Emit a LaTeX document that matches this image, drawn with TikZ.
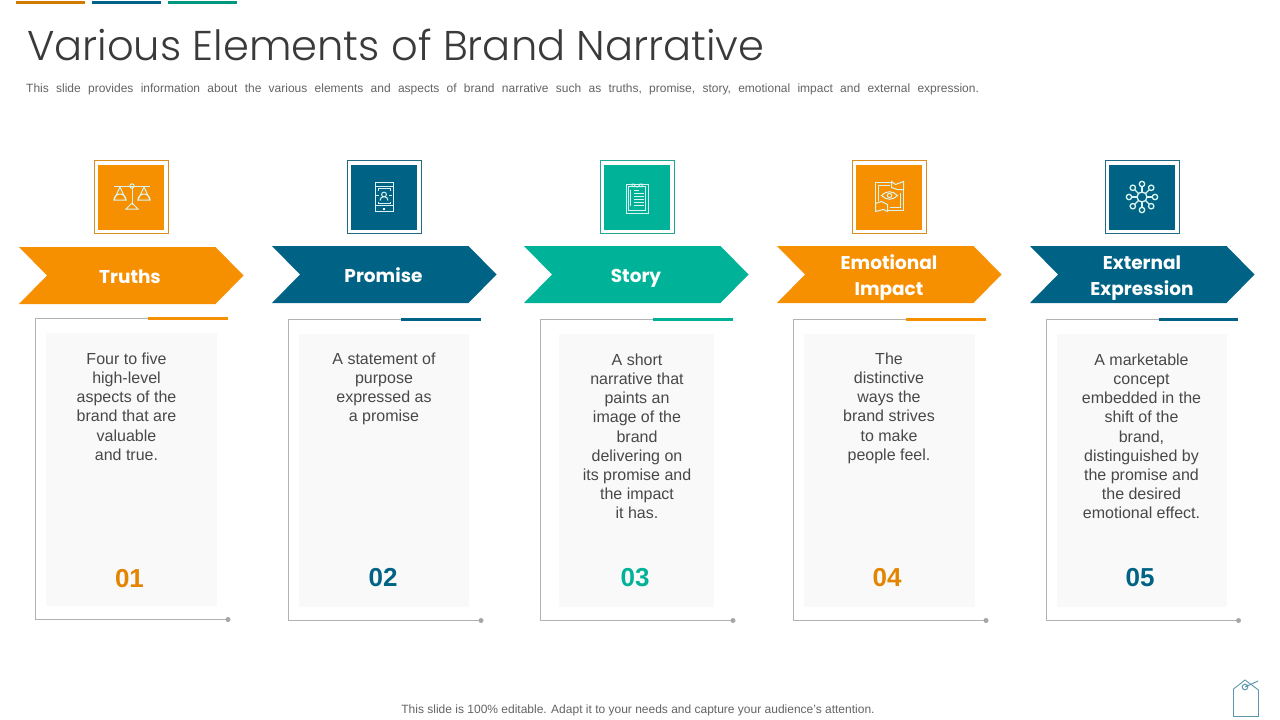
\documentclass[tikz,border=0pt]{standalone}
\usepackage{fontspec}
\setmainfont{Liberation Sans}
\newfontfamily\headfont{Poppins}
\newfontfamily\titlefont[UprightFont=* Light]{Poppins}
\definecolor{brandorange}{HTML}{F79000}
\definecolor{brandblue}{HTML}{006385}
\definecolor{brandgreen}{HTML}{00B398}
\definecolor{bodygrey}{HTML}{484848}
\definecolor{tagblue}{HTML}{5C97AC}
\newcommand{\bodysize}{\fontsize{16}{19.2}\selectfont}

\begin{document}
\begin{tikzpicture}[x=1pt,y=-1pt]
    \tikzstyle{title}=[anchor=west,inner sep=0pt,text=bodygrey!80!black,font=\titlefont\fontsize{41.6}{50}\selectfont]
    \tikzstyle{note}=[inner sep=0pt,text=bodygrey!85,font=\fontsize{12}{14}\selectfont]
    \tikzstyle{banner text}=[align=center,text=white,inner sep=0pt,font=\headfont\bfseries\fontsize{18.5}{26}\selectfont]
    \tikzstyle{body}=[anchor=north,align=center,inner sep=0pt,text=bodygrey,font=\bodysize]
    \tikzstyle{number}=[inner sep=0pt,font=\bfseries\fontsize{26}{30}\selectfont]
    \tikzstyle{icon line}=[draw=white!85!brandgreen,line width=1pt,fill=none]
    \useasboundingbox (0,0) rectangle (1280,720);

    % top rules
    \fill[brandorange!85!black] (16,1) rectangle (85,3.5);
    \fill[brandblue] (92,1) rectangle (161,3.5);
    \fill[brandgreen!85!black] (168,1) rectangle (237,3.5);

    \node[title] (title) at (27,44.5) {Various Elements of Brand Narrative};
    \node[note,anchor=west] (subtitle) at (26,89) {\spaceskip=7.3pt This slide provides information about the various elements and aspects of brand narrative such as truths, promise, story, emotional impact and external expression.};

    % icon frames
    \foreach \x/\y/\c in {94/160/brandorange,347/160/brandblue,600/160/brandgreen,852/160/brandorange,1105/160/brandblue}{
        \draw[\c!75!gray,line width=0.8pt] (\x+0.5,\y+0.5) rectangle (\x+74.5,\y+73.5);
        \fill[\c] (\x+4,\y+4.5) rectangle (\x+70,\y+70);
    }

    % arrows
    \foreach \x/\y/\c in {19/247/brandorange,272/246/brandblue,524/246/brandgreen,777/246/brandorange,1030/246/brandblue}{
        \fill[\c] (\x,\y) -- (\x+196.5,\y) -- (\x+224.5,\y+28.5) -- (\x+196.5,\y+57) -- (\x,\y+57) -- (\x+28,\y+28.5) -- cycle;
    }

    % panels
    \foreach \x/\y/\c/\bx/\bw in {35.5/318.5/brandorange/46/171,288.5/319.5/brandblue/299/170,540.5/319.5/brandgreen/559/155,793.5/319.5/brandorange/804/171,1046/319.5/brandblue/1057/170}{
        \fill[gray!5] (\bx,\y+14.5) rectangle (\bx+\bw,\y+287.5);
        \draw[gray!60,line width=0.9pt] (\x+113,\y) -- (\x,\y) -- (\x,\y+301) -- (\x+192,\y+301);
        \fill[gray!70] (\x+192.5,\y+301) circle (2.5);
        \draw[\c,line width=2.5pt] (\x+112.5,\y) -- (\x+192,\y);
    }

    % scales
    \begin{scope}[shift={(132,197)}]
        \draw[icon line] (-18,-11) -- (18,-11) (0,-9) -- (0,8);
        \draw[icon line] (0,-11) circle (2.2);
        \draw[icon line] (-6,12) -- (0,6) -- (6,12) -- cycle;
        \draw[icon line] (-12,-10) -- (-18,3) -- (-6,3) -- cycle;
        \draw[icon line] (12,-10) -- (6,3) -- (18,3) -- cycle;
        \draw[icon line] (-18,3) arc (180:360:6);
        \draw[icon line] (6,3) arc (180:360:6);
    \end{scope}
    % phone
    \begin{scope}[shift={(384,196.5)}]
        \draw[icon line] (-9,-14.5) rectangle (9,14.5);
        \draw[icon line] (-9,-10) -- (9,-10) (-9,9) -- (9,9);
        \draw[icon line] (-6,-6) -- (-6,-8) -- (6,-8) -- (6,-6) (-6,5) -- (-6,7) -- (6,7) -- (6,5);
        \draw[icon line] (0,-2) circle (2.4);
        \draw[icon line] (-4,4) arc (180:360:4);
        \draw[icon line] (-8,-1) -- (-5,-1) (5,-1) -- (8,-1);
        \fill[white] (-1,11) rectangle (1,13);
    \end{scope}
    % clipboard
    \begin{scope}[shift={(637,197)}]
        \draw[icon line] (-11,-13) rectangle (11,16);
        \draw[icon line] (-8.5,-10.5) rectangle (8.5,13.5);
        \draw[icon line] (-5,-10.5) -- (-5,-13) -- (-3,-13) arc (180:0:3) -- (5,-13) -- (5,-10.5) -- cycle;
        \foreach \ly in {-4,-1,2,5,8}{
            \draw[icon line] (-3,\ly) -- (7,\ly);
        }
        \draw[icon line] (-7,-7) -- (-7,9) (-3,-7) -- (2,-7);
    \end{scope}
    % eye and hands
    \begin{scope}[shift={(889.5,196.5)}]
        \draw[icon line] (2,-14) -- (-14,-14) -- (-14,7) (-11,4) -- (-11,-11) -- (0,-11);
        \draw[icon line] (-2,14) -- (14,14) -- (14,-7) (11,-4) -- (11,11) -- (0,11);
        \draw[icon line] (2,-15) -- (6,-12) -- (14,-15) -- (14,-7) -- (8,-7) -- (2,-9) -- cycle;
        \draw[icon line] (-2,15) -- (-6,13) -- (-14,15) -- (-14,7) -- (-8,5) -- (-2,8) -- cycle;
        \draw[icon line] (-8,-1) .. controls (-3,-6) and (3,-6) .. (8,-1) .. controls (3,4) and (-3,4) .. (-8,-1) -- cycle;
        \draw[icon line] (0,-1) circle (2.2);
    \end{scope}
    % network
    \begin{scope}[shift={(1142,197)}]
        \draw[icon line,line width=1.3pt] (0,0) circle (5);
        \foreach \a in {0,45,...,315}{
            \draw[icon line,line width=1.3pt] (\a:5) -- (\a:10.5);
            \draw[icon line,line width=1.3pt] (\a:13) circle (2.7);
        }
    \end{scope}

    \node[banner text] (truths) at (130,276.5) {Truths};
    \node[banner text] (promise) at (383.5,275) {Promise};
    \node[banner text] (story) at (636,278) {Story};
    \node[banner text] (emotional) at (889,278) {Emotional\\Impact};
    \node[banner text] (external) at (1142,278) {External\\Expression};

    \node[body] (truthsbody) at (126.5,352.5) {Four to five\\high-level\\aspects of the\\brand that are\\valuable\\and true.};
    \node[body] (promisebody) at (384,352.5) {A statement of\\purpose\\expressed as\\a promise};
    \node[body] (storybody) at (637,353.5) {A short\\narrative that\\paints an\\image of the\\brand\\delivering on\\its promise and\\the impact\\it has.};
    \node[body] (emotionalbody) at (889,352.5) {The\\distinctive\\ways the\\brand strives\\to make\\people feel.};
    \node[body] (externalbody) at (1141.5,353.5) {A marketable\\concept\\embedded in the\\shift of the\\brand,\\distinguished by\\the promise and\\the desired\\emotional effect.};

    \node[number,text=brandorange!92!black] (num1) at (129.5,578.5) {01};
    \node[number,text=brandblue] (num2) at (383,577.5) {02};
    \node[number,text=brandgreen] (num3) at (635,577.5) {03};
    \node[number,text=brandorange!92!black] (num4) at (887,577.5) {04};
    \node[number,text=brandblue] (num5) at (1140,577.5) {05};

    \node[note,anchor=center] (footer) at (638,710.5) {This slide is 100\% editable. Adapt it to your needs and capture your audience's attention.};

    % tag
    \draw[tagblue,line width=0.9pt] (1245,680) -- (1233.5,689) -- (1233.5,716.5) -- (1258.5,716.5) -- (1258.5,690) -- cycle;
    \draw[tagblue,line width=1pt] (1245,687) circle (2.8) (1245,687) -- (1258,681);
\end{tikzpicture}
\end{document}
